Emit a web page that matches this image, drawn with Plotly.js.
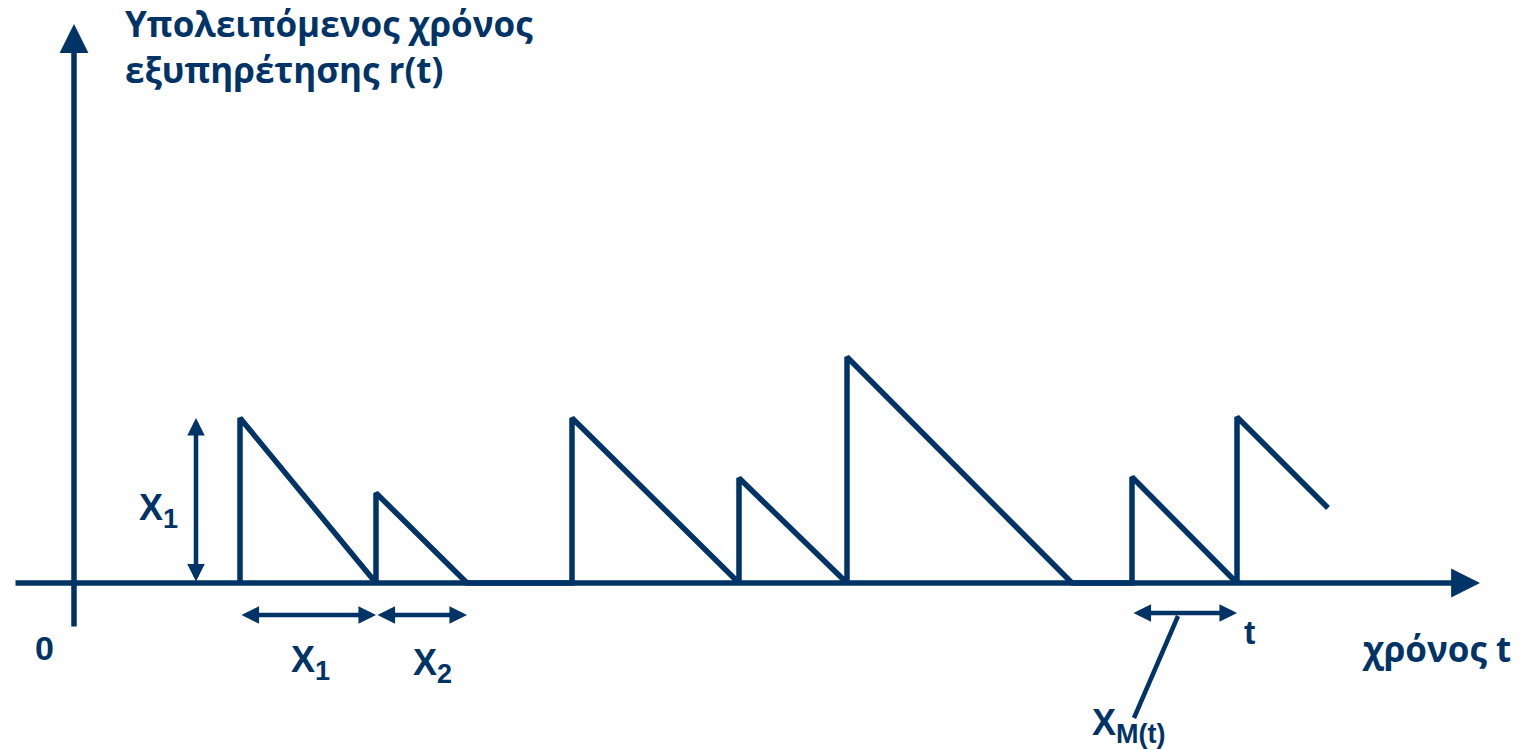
<!DOCTYPE html>
<html>
<head>
<meta charset="utf-8">
<script src="https://cdn.plot.ly/plotly-3.0.1.min.js"></script>
<style>
  html, body { margin: 0; padding: 0; background: #ffffff; overflow: hidden; }
  #chart { width: 1521px; height: 750px; }
</style>
</head>
<body>
<div id="chart"></div>
<script>
// ---- data (time units, residual service units) ----
const jobStart   = [16.6, 30.2, 49.8, 66.5, 77.3, 105.8, 116.3];
const jobService = [16.5, 9.0, 16.5, 10.5, 22.6, 10.6, 16.6];
const jobEnd     = [30.2, 39.3, 66.5, 77.3, 99.8, 116.3, 132.9];
const tObserve   = 125.4;
const titleLines = ['Υπολειπόμενος χρόνος', 'εξυπηρέτησης r(t)'];
const xLabel     = 'χρόνος t';

const NAVY = '#003366';

// build the residual-service-time sawtooth r(t)
const rx = [], ry = [];
for (let i = 0; i < jobStart.length; i++) {
  const s = jobStart[i], h = jobService[i], e = jobEnd[i];
  if (s > tObserve) break;
  rx.push(s, s); ry.push(0, h);
  if (e <= tObserve) { rx.push(e); ry.push(0); }
  else { rx.push(tObserve); ry.push(h * (e - tObserve) / (e - s)); }
}

const trace = {
  x: rx, y: ry, type: 'scatter', mode: 'lines',
  line: { color: NAVY, width: 5.5 },
  hoverinfo: 'skip', showlegend: false
};

const XR = [-7.4, 144.7], YR = [-16.7, 58.3];
// pixel -> data helpers for decoration placement
const dx = p => (p - 74) / 10;
const dy = p => (583 - p) / 10;
const paperX = p => p / 1521;
const paperY = p => 1 - p / 750;

function arrow(x, y, ax, ay, w, size, both) {
  return {
    x: x, y: y, ax: ax, ay: ay, xref: 'x', yref: 'y', axref: 'x', ayref: 'y',
    text: '', showarrow: true, arrowhead: 2, arrowsize: size, arrowwidth: w,
    arrowcolor: NAVY, arrowside: both ? 'end+start' : 'end',
    startarrowhead: 2, startarrowsize: size, standoff: 0, startstandoff: 0
  };
}
function label(text, px, py, size, fam, xanchor, align) {
  return {
    x: paperX(px), y: paperY(py), xref: 'paper', yref: 'paper',
    text: text, showarrow: false, xanchor: xanchor || 'center', yanchor: 'middle',
    align: align || 'center',
    font: { family: fam || 'Liberation Sans, Arial, sans-serif', size: size, color: NAVY, weight: 700 }
  };
}
const SUB = t => '<sub><span style="font-size:27px">' + t + '</span></sub>';
const GREEK = 'Open Sans, Noto Sans, sans-serif';

const annotations = [
  // axes
  arrow(dx(1480), 0, dx(14), 0, 5.5, 1.05, false),
  arrow(0, dy(24), 0, dy(628), 5.5, 1.05, false),
  // X1 vertical (height of first job)
  arrow(dx(196), jobService[0], dx(196), 0, 4.5, 0.78, true),
  // X1, X2 horizontal durations
  arrow(jobEnd[0], dy(615), jobStart[0], dy(615), 4.5, 0.78, true),
  arrow(jobEnd[1], dy(615), jobStart[1], dy(615), 4.5, 0.78, true),
  // X_M(t)
  arrow(jobEnd[5], dy(613), jobStart[5], dy(613), 4.5, 0.78, true),
  // texts
  label(titleLines.join('<br>'), 123, 47, 35, GREEK, 'left', 'left'),
  label('X' + SUB('1'), 158, 510, 36),
  label('X' + SUB('1'), 310, 662, 36),
  label('X' + SUB('2'), 432, 665, 36),
  label('X' + SUB('M(t)'), 1128, 725, 36),
  label('0', 44, 648, 34),
  label('t', 1249, 632, 34),
  label(xLabel, 1436, 648, 35, GREEK)
];

const shapes = [
  { type: 'line', xref: 'x', yref: 'y', x0: dx(1178), y0: dy(616), x1: dx(1134), y1: dy(718),
    line: { color: NAVY, width: 4.5 } }
];

const layout = {
  width: 1521, height: 750, autosize: false,
  margin: { l: 0, r: 0, t: 0, b: 0, pad: 0 },
  paper_bgcolor: '#ffffff', plot_bgcolor: '#ffffff',
  xaxis: { range: XR, visible: false, fixedrange: true },
  yaxis: { range: YR, visible: false, fixedrange: true },
  showlegend: false,
  annotations: annotations, shapes: shapes
};

Plotly.newPlot('chart', [trace], layout, { staticPlot: true, displayModeBar: false });
</script>
</body>
</html>
